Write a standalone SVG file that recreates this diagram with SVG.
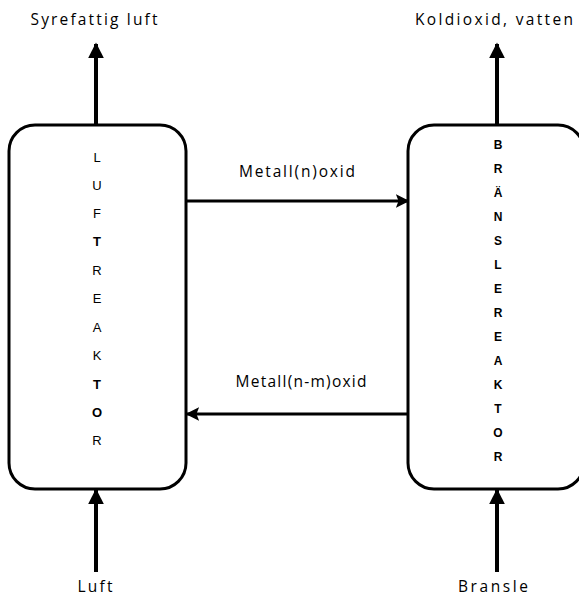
<svg xmlns="http://www.w3.org/2000/svg" width="579" height="598" viewBox="0 0 579 598">
<style>
.box{fill:#fff;stroke:#000;stroke-width:3}
.v{stroke:#000;stroke-width:4;fill:none}
.h{stroke:#000;stroke-width:3;fill:none}
.lbl{font-family:"Open Sans","Liberation Sans",sans-serif;font-size:15.5px;fill:#000;text-anchor:middle}
.let{font-family:"Liberation Sans",sans-serif;font-size:13px;fill:#000;text-anchor:middle}
.let2{font-family:"Liberation Sans",sans-serif;font-size:12px;fill:#000;text-anchor:middle;font-weight:bold}
</style>
<defs>
<marker id="ah" viewBox="0 0 10 10" refX="9" refY="5" markerWidth="4.5" markerHeight="4.5" orient="auto" markerUnits="strokeWidth">
<path d="M0,0 L10,5 L0,10 L2,5 z" fill="#000"/>
</marker>
<marker id="av" viewBox="0 0 10 10" refX="9" refY="5" markerWidth="4" markerHeight="4.5" orient="auto" markerUnits="strokeWidth">
<path d="M0,0 L10,5 L0,10 z" fill="#000"/>
</marker>
</defs>
<g id="luftreaktor">
<rect class="box" x="9" y="125" width="177" height="364" rx="26" ry="26"/>
<text class="let" x="97" y="162">L</text>
<text class="let" x="97" y="190">U</text>
<text class="let" x="97" y="218">F</text>
<text class="let" x="97" y="246" font-weight="bold">T</text>
<text class="let" x="97" y="275">R</text>
<text class="let" x="97" y="303">E</text>
<text class="let" x="97" y="332">A</text>
<text class="let" x="97" y="360">K</text>
<text class="let" x="97" y="389" font-weight="bold">T</text>
<text class="let" x="97" y="417" font-weight="bold">O</text>
<text class="let" x="97" y="445">R</text>
</g>
<g id="bransle-reaktor">
<rect class="box" x="408" y="125" width="176" height="364" rx="26" ry="26"/>
<text class="let2" x="498" y="149">B</text>
<text class="let2" x="498" y="173">R</text>
<text class="let2" x="498" y="197" font-weight="normal">Ä</text>
<text class="let2" x="498" y="221">N</text>
<text class="let2" x="498" y="245" font-weight="normal">S</text>
<text class="let2" x="498" y="269">L</text>
<text class="let2" x="498" y="293">E</text>
<text class="let2" x="498" y="317">R</text>
<text class="let2" x="498" y="341">E</text>
<text class="let2" x="498" y="365" font-weight="normal">A</text>
<text class="let2" x="498" y="389">K</text>
<text class="let2" x="498" y="413" font-weight="normal">T</text>
<text class="let2" x="498" y="437" font-weight="normal">O</text>
<text class="let2" x="498" y="461">R</text>
</g>
<g id="connectors">
<line class="v" x1="96" y1="125" x2="96" y2="44" marker-end="url(#av)"/>
<line class="v" x1="497" y1="125" x2="497" y2="44" marker-end="url(#av)"/>
<line class="v" x1="96" y1="572" x2="96" y2="490" marker-end="url(#av)"/>
<line class="v" x1="497" y1="572" x2="497" y2="490" marker-end="url(#av)"/>
<line class="h" x1="186" y1="201" x2="408" y2="201" marker-end="url(#ah)"/>
<line class="h" x1="408" y1="414" x2="187" y2="414" marker-end="url(#ah)"/>
</g>
<g id="labels">
<text class="lbl" x="94" y="25" textLength="127" lengthAdjust="spacing">Syrefattig luft</text>
<text class="lbl" x="494" y="25" textLength="158" lengthAdjust="spacing">Koldioxid, vatten</text>
<text class="lbl" x="297" y="177" textLength="116" lengthAdjust="spacing">Metall(n)oxid</text>
<text class="lbl" x="301" y="387" textLength="131" lengthAdjust="spacing">Metall(n-m)oxid</text>
<text class="lbl" x="95" y="592" textLength="35" lengthAdjust="spacing">Luft</text>
<text class="lbl" x="493" y="592" textLength="70" lengthAdjust="spacing">Bransle</text>
</g>
</svg>
